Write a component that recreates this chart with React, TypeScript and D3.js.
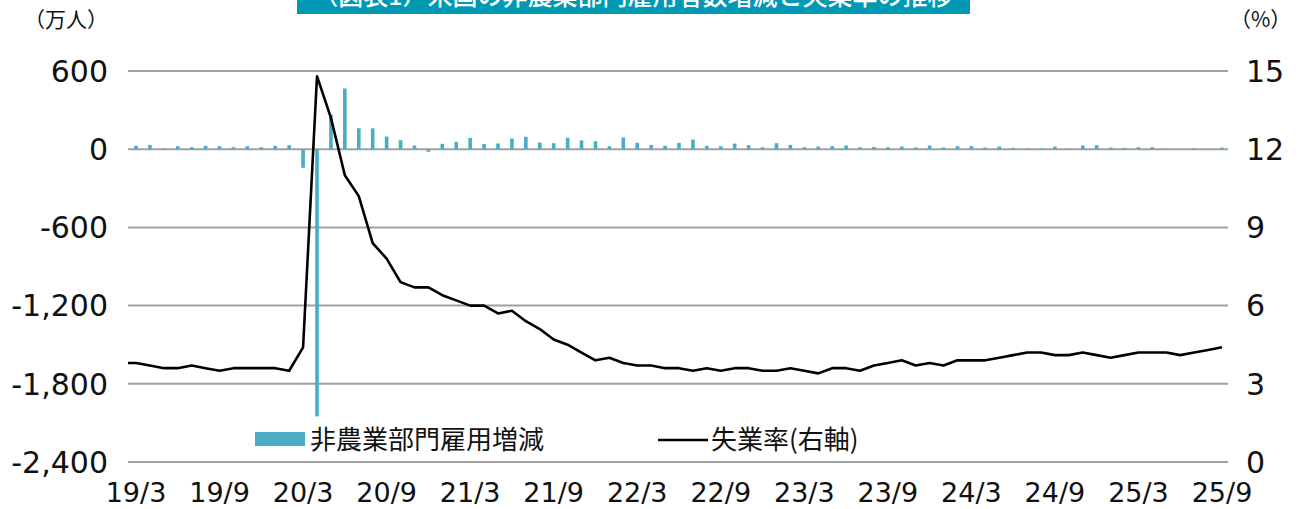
import * as d3 from "d3";
import { useEffect, useRef } from "react";

// 月次データ（2019/3〜2025/9）非農業部門雇用者数増減（万人）
const payrollChange: number[] = [
  25, 33, 5, 23, 15, 25, 23, 15, 23, 15,
  25, 31, -143, -2050, 266, 466, 161, 160, 97, 69, 28, -20,
  41, 56, 87, 40, 44, 82, 95, 51, 46, 87, 67, 61,
  23, 90, 49, 33, 26, 49, 74, 26, 23, 43, 31, 15,
  46, 33, 15, 20, 23, 28, 15, 17, 15, 20, 13, 28,
  13, 23, 23, 13, 20, 10, 6, 5, 20, 4, 28, 31,
  13, 10, 15, 15, 3, -1, 7, 2, 12,
];

// 失業率（%）2019/2〜2025/9
const unemployment: number[] = [
  3.8, 3.8, 3.7, 3.6, 3.6, 3.7, 3.6, 3.5, 3.6, 3.6, 3.6,
  3.6, 3.5, 4.4, 14.8, 13.2, 11.0, 10.2, 8.4, 7.8, 6.9, 6.7, 6.7,
  6.4, 6.2, 6.0, 6.0, 5.7, 5.8, 5.4, 5.1, 4.7, 4.5, 4.2, 3.9,
  4.0, 3.8, 3.7, 3.7, 3.6, 3.6, 3.5, 3.6, 3.5, 3.6, 3.6, 3.5,
  3.5, 3.6, 3.5, 3.4, 3.6, 3.6, 3.5, 3.7, 3.8, 3.9, 3.7, 3.8,
  3.7, 3.9, 3.9, 3.9, 4.0, 4.1, 4.2, 4.2, 4.1, 4.1, 4.2, 4.1,
  4.0, 4.1, 4.2, 4.2, 4.2, 4.1, 4.2, 4.3, 4.4,
];

const xTickLabels = ["19/3", "19/9", "20/3", "20/9", "21/3", "21/9", "22/3", "22/9", "23/3", "23/9", "24/3", "24/9", "25/3", "25/9"];
const leftTicks = [600, 0, -600, -1200, -1800, -2400];
const rightTicks = [15, 12, 9, 6, 3, 0];

const title = "（図表1）米国の非農業部門雇用者数増減と失業率の推移";

const W = 1301;
const H = 509;
const numFont = "'DejaVu Sans', sans-serif";
const jpFont = "'Noto Sans CJK JP', sans-serif";

const App = () => {
  const ref = useRef<SVGSVGElement | null>(null);

  useEffect(() => {
    const svg = d3.select(ref.current);
    svg.selectAll("*").remove();

    const plotLeft = 128, plotRight = 1228, top = 71, bottom = 462;

    // 月インデックス（0 = 2019/3）
    const x = d3.scaleLinear().domain([0, 78]).range([136, 1222]);
    const yL = d3.scaleLinear().domain([-2400, 600]).range([bottom, top]);
    const yR = d3.scaleLinear().domain([0, 15]).range([bottom, top]);

    // タイトル（上端で切れている）
    svg.append("rect").attr("x", 297).attr("y", -30).attr("width", 673).attr("height", 44).attr("fill", "#0099b4");
    svg.append("text").attr("x", 633).attr("y", 5).attr("text-anchor", "middle")
      .attr("font-family", jpFont).attr("font-size", 25).attr("font-weight", 500).attr("fill", "#fff").text(title);

    // グリッド
    svg.append("g").selectAll("line").data(leftTicks).join("line")
      .attr("x1", plotLeft).attr("x2", plotRight)
      .attr("y1", d => yL(d)).attr("y2", d => yL(d))
      .attr("stroke", "#a0a0a0").attr("stroke-width", 2);

    // 左軸ラベル
    svg.append("g").selectAll("text").data(leftTicks).join("text")
      .attr("x", 108).attr("y", d => yL(d)).attr("dy", "0.36em")
      .attr("text-anchor", "end").attr("font-family", numFont).attr("font-size", 30).attr("fill", "#111")
      .text(d => d3.format(",")(d).replace("−", "-"));

    // 右軸ラベル
    svg.append("g").selectAll("text").data(rightTicks).join("text")
      .attr("x", 1246).attr("y", d => yR(d)).attr("dy", "0.36em")
      .attr("font-family", numFont).attr("font-size", 30).attr("fill", "#111")
      .text(d => String(d));

    // 単位
    svg.append("text").attr("x", 108).attr("y", 27).attr("text-anchor", "end")
      .attr("font-family", jpFont).attr("font-size", 21).attr("fill", "#111").text("（万人）");
    svg.append("text").attr("x", 1230).attr("y", 27)
      .attr("font-family", jpFont).attr("font-size", 21).attr("fill", "#111").text("（%）");

    // x軸ラベル
    svg.append("g").selectAll("text").data(xTickLabels).join("text")
      .attr("x", (_, i) => x(i * 6)).attr("y", 502).attr("text-anchor", "middle")
      .attr("font-family", numFont).attr("font-size", 27).attr("fill", "#111")
      .text(d => d);

    // クリップ
    svg.append("defs").append("clipPath").attr("id", "plotClip")
      .append("rect").attr("x", plotLeft).attr("y", 0).attr("width", plotRight - plotLeft).attr("height", H);

    const bw = 3.6;
    svg.append("g").selectAll("rect").data(payrollChange).join("rect")
      .attr("x", (_, i) => x(i) - bw / 2)
      .attr("y", d => yL(Math.max(0, d)))
      .attr("width", bw)
      .attr("height", d => Math.abs(yL(d) - yL(0)))
      .attr("fill", "#4bacc6");

    const line = d3.line<number>().x((_, i) => x(i - 1)).y(d => yR(d));
    svg.append("path").datum(unemployment)
      .attr("clip-path", "url(#plotClip)")
      .attr("d", line).attr("fill", "none").attr("stroke", "#000").attr("stroke-width", 2.6)
      .attr("stroke-linejoin", "round");

    // 凡例
    svg.append("rect").attr("x", 255).attr("y", 432).attr("width", 50).attr("height", 14).attr("fill", "#4bacc6");
    svg.append("text").attr("x", 310).attr("y", 449)
      .attr("font-family", jpFont).attr("font-size", 26).attr("fill", "#111").text("非農業部門雇用増減");
    svg.append("line").attr("x1", 658).attr("x2", 708).attr("y1", 440).attr("y2", 440)
      .attr("stroke", "#000").attr("stroke-width", 2.6);
    svg.append("text").attr("x", 711).attr("y", 449)
      .attr("font-family", jpFont).attr("font-size", 26).attr("fill", "#111").text("失業率(右軸)");
  }, []);

  return (
    <svg ref={ref} width={W} height={H}
      style={{ position: "absolute", left: 0, top: 0, display: "block", background: "#fff" }} />
  );
};

export default App;
